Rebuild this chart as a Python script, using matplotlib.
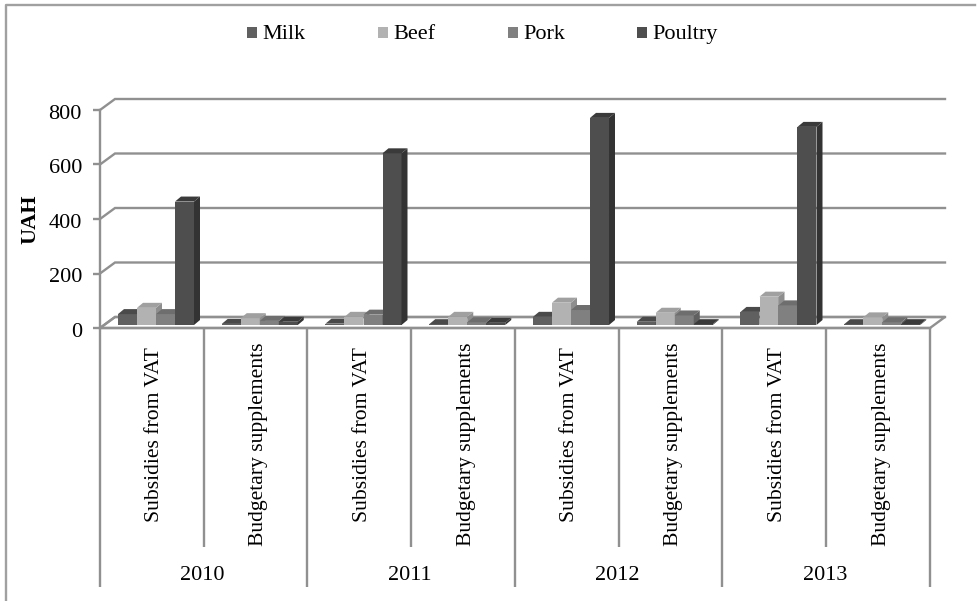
import numpy as np
import matplotlib
matplotlib.use("Agg")
import matplotlib.pyplot as plt
from matplotlib.patches import Polygon, Rectangle
from matplotlib.transforms import ScaledTranslation

plt.rcParams['font.family'] = ['Liberation Serif', 'DejaVu Serif']

years = ['2010', '2011', '2012', '2013']
subcats = ['Subsidies from VAT', 'Budgetary supplements']
series = ['Milk', 'Beef', 'Pork', 'Poultry']

# order: 2010 VAT, 2010 budget, 2011 VAT, ...
milk = [40, 4, 5, 3, 30, 12, 48, 3]
beef = [63, 25, 30, 30, 82, 45, 104, 28]
pork = [40, 15, 38, 10, 55, 35, 72, 10]
poultry = [453, 12, 630, 8, 760, 3, 727, 3]
values = [milk, beef, pork, poultry]

front = ['#606060', '#b2b2b2', '#808080', '#4e4e4e']
side = ['#474747', '#8e8e8e', '#606060', '#333333']
top = ['#4a4a4a', '#a0a0a0', '#6e6e6e', '#3a3a3a']
line_col = '#909090'
lw = 1.7

W, H = 978, 601
fig = plt.figure(figsize=(W / 100, H / 100), dpi=100, facecolor='white')
ax = fig.add_axes([100 / W, 1 - 328 / H, 830 / W, 218 / H])
ax.set_xlim(0, 8)
ax.set_ylim(0, 800)
ax.patch.set_visible(False)

# pixel sizes turned into data units
px_x = 8 / 830
px_y = 800 / 218
wall_dx, wall_dy = 15 * px_x, 11 * px_y
bar_dx, bar_dy = 6 * px_x, 5 * px_y
bar_w = 19 * px_x
bar_start = 18 * px_x
bar_base = 3 * px_y

yticks = [0, 200, 400, 600, 800]

# floor and walls
ax.add_patch(Polygon([(0, 0), (wall_dx, wall_dy), (8 + wall_dx, wall_dy), (8, 0)],
                     closed=True, fc='white', ec=line_col, lw=lw, clip_on=False, zorder=1))
for v in yticks:
    ax.plot([0, wall_dx, 8 + wall_dx], [v, v + wall_dy, v + wall_dy],
            color=line_col, lw=lw, clip_on=False, zorder=1, solid_joinstyle='miter')

# bars, left to right so that each one covers the side of the one before
for i in range(8):
    for s in range(4):
        v = values[s][i]
        x0 = i + bar_start + s * bar_w
        x1 = x0 + bar_w
        ax.bar(x0, v, width=bar_w, bottom=bar_base, align='edge', color=front[s],
               linewidth=0, clip_on=False, zorder=3)
        yt = bar_base + v
        ax.add_patch(Polygon([(x1, bar_base), (x1 + bar_dx, bar_base + bar_dy),
                              (x1 + bar_dx, yt + bar_dy), (x1, yt)],
                             closed=True, fc=side[s], lw=0, clip_on=False, zorder=3))
        ax.add_patch(Polygon([(x0, yt), (x0 + bar_dx, yt + bar_dy),
                              (x1 + bar_dx, yt + bar_dy), (x1, yt)],
                             closed=True, fc=top[s], lw=0, clip_on=False, zorder=3))

# axes
for name in ['top', 'right']:
    ax.spines[name].set_visible(False)
for name in ['left', 'bottom']:
    ax.spines[name].set_color(line_col)
    ax.spines[name].set_linewidth(lw)
    ax.spines[name].set_zorder(4)
ax.set_yticks(yticks)
ax.tick_params(axis='y', length=5, width=lw, color=line_col, labelsize=16, pad=8)
# labels sit a little lower than the ticks
nudge = ScaledTranslation(0, -2 / 100, fig.dpi_scale_trans)
for lab in ax.get_yticklabels():
    lab.set_transform(lab.get_transform() + nudge)
ax.set_xticks([])
ax.text(-70 * px_x, 400, 'UAH', rotation=90, ha='center', va='center',
        fontsize=16, fontweight='bold')

# category separators below the axis
trans = ax.get_xaxis_transform()
for i in range(9):
    y_end = -259 / 218 if i % 2 == 0 else -219 / 218
    ax.plot([i, i], [0, y_end], color=line_col, lw=lw, transform=trans,
            clip_on=False, zorder=2, solid_capstyle='butt')

label_bottom = [-193.5 / 218, -218 / 218]
for i in range(8):
    ax.text(i + 0.5 + 3 * px_x, label_bottom[i % 2], subcats[i % 2], rotation=90, ha='center',
            va='bottom', fontsize=15.6, transform=trans)
for j, yr in enumerate(years):
    ax.text(2 * j + 1 - px_x, -247 / 218, yr, ha='center', va='center', fontsize=16, transform=trans)

# legend, evenly spaced like the original
leg_x = [247, 378, 508, 637]
for x, name, c in zip(leg_x, series, front):
    fig.add_artist(Rectangle((x / W, 1 - 38 / H), 10 / W, 11 / H, fc=c, lw=0,
                             transform=fig.transFigure))
    fig.text((x + 15) / W, 1 - 34.5 / H, name, fontsize=16, ha='left', va='center')

# chart border
fig.add_artist(plt.Line2D([6 / W, 6 / W, 975 / W], [0, 1 - 5 / H, 1 - 5 / H],
                          color='#a0a0a0', lw=1.7, transform=fig.transFigure))

fig.savefig('out.png', dpi=100)
